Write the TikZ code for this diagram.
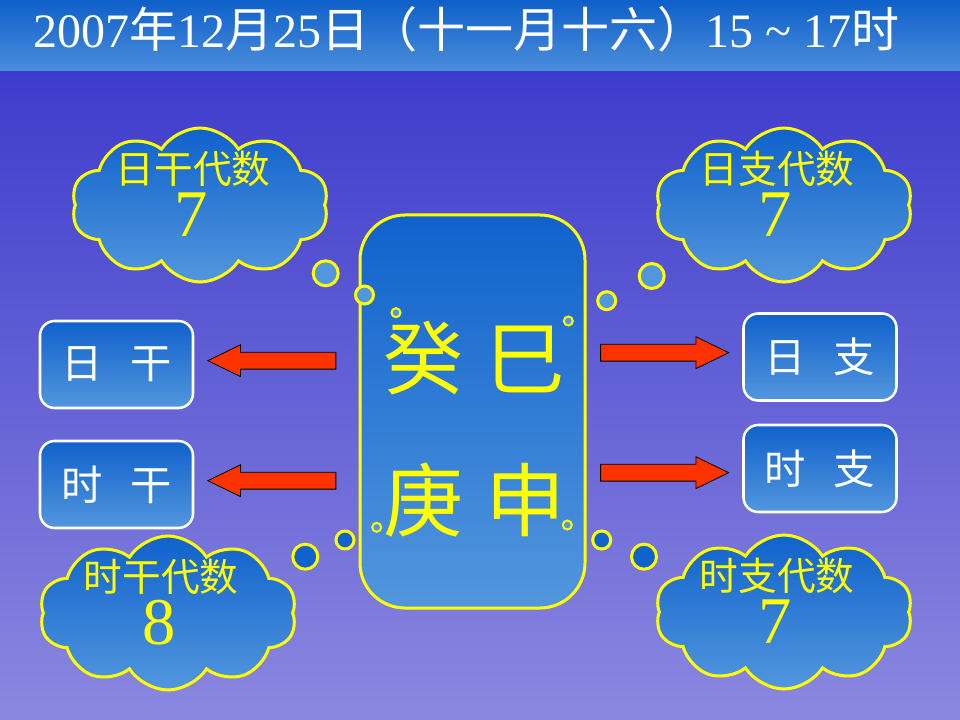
\documentclass[tikz,border=0pt]{standalone}
\usepackage{fontspec}
\setmainfont{Liberation Serif}
\newfontfamily\cjk{Noto Sans CJK SC}
\usepackage{tikz}
\usetikzlibrary{shapes.symbols, shapes.arrows}

\definecolor{boxtop}{RGB}{16,98,204}
\definecolor{boxbot}{RGB}{82,150,221}
\definecolor{bgtop}{RGB}{62,60,204}
\definecolor{bgbot}{RGB}{139,136,224}
\definecolor{bandtop}{RGB}{14,96,202}
\definecolor{bandbot}{RGB}{76,142,219}
\definecolor{arrowred}{RGB}{255,51,0}
\definecolor{ylw}{RGB}{255,255,0}

\begin{document}
\begin{tikzpicture}[x=0.75pt, y=-0.75pt,
    boxshade/.style={top color=boxtop, bottom color=boxbot},
    stembox/.style={boxshade, draw=ylw, line width=2.25pt, rounded corners=33.75pt,
        minimum width=168.75pt, minimum height=294.75pt, inner sep=0pt},
    stemtext/.style={text=ylw, align=center, inner sep=0pt,
        font=\cjk\fontsize{60}{106.5}\selectfont},
    sidebox/.style={boxshade, draw=white, line width=1.9pt, rounded corners=11pt,
        minimum width=114.75pt, minimum height=65.25pt, inner sep=0pt,
        text=white, font=\cjk\fontsize{31}{31}\selectfont},
    thought/.style={cloud, cloud puffs=10, cloud puff arc=115, cloud ignores aspect,
        boxshade, draw=ylw, line width=2.25pt,
        minimum width=192.75pt, minimum height=115.5pt, inner sep=0pt},
    cloudlabel/.style={text=ylw, inner sep=0pt, font=\cjk\fontsize{29}{29}\selectfont},
    cloudnum/.style={text=ylw, inner sep=0pt, font=\fontsize{50}{50}\selectfont},
    blockarrow/.style={single arrow, draw=black, line width=0.6pt, fill=arrowred,
        minimum height=96pt, inner xsep=0pt, inner ysep=6pt,
        single arrow head extend=5.6pt, single arrow tip angle=52},
    titletext/.style={text=white, inner sep=0pt, font=\fontsize{36}{36}\selectfont}]

% 1. 背景与标题
\useasboundingbox (0,0) rectangle (960,720);
\shade[top color=bandtop, bottom color=bandbot] (0,0) rectangle (960,72);
\shade[top color=bgtop, bottom color=bgbot] (0,72) rectangle (960,720);
\node[titletext, anchor=base west] (title) at (33,48)
    {2007{\cjk 年}12{\cjk 月}25{\cjk 日（十一月十六）}15 \textasciitilde{} 17{\cjk 时}};

% 2. 中间的四柱
\node[stembox] (stem) at (472.5,411.5) {};
\node[stemtext] (stemchars) at (474,429)
    {癸\hspace{16.5pt}巳\\庚\hspace{16.5pt}申};

% 3. 两边的干支框
\node[sidebox] (rigan) at (116.5,364.5) {日\hspace{21pt}干};
\node[sidebox] (shigan) at (116.5,484.5) {时\hspace{21pt}干};
\node[sidebox] (rizhi) at (820,357) {日\hspace{21pt}支};
\node[sidebox] (shizhi) at (820,468.5) {时\hspace{21pt}支};

% 4. 箭头
\foreach \nm/\ax/\ay/\rot in
    {rg/280.5/360.7/180, sg/280.5/480.7/180, rz/656/352.7/0, sz/656/472.7/0}
    {\node[blockarrow, shape border rotate=\rot] (arr\nm) at (\ax,\ay) {};
    }

% 5. 代数云
\foreach \nm/\cx/\cy/\lab/\num in
    {rg/200/205/日干代数/7, rz/784/205/日支代数/7,
     sg/168/613/时干代数/8, sz/784/612/时支代数/7}
    {\node[thought] (c\nm) at (\cx,\cy) {};
     \node[cloudlabel] (l\nm) at (\cx-7,\cy-36) {\lab};
     \node[cloudnum] (n\nm) at (\cx-9,\cy+10) {\num};
    }

% 6. 小气泡
\foreach \cx/\cy/\r/\col/\lw in
    {325.7/273.3/12.5/boxbot/2.25, 364.5/295/9/boxbot/2.25,
     606.7/300.7/9/boxbot/2.25, 651.7/276/12.5/boxbot/2.25,
     396/312.7/4.5/boxbot/1.5, 568.3/321/4.5/boxbot/1.5,
     376.7/527.3/4.5/boxbot/1.5, 567.3/525/4.5/boxbot/1.5,
     345/540/9/boxtop/2.25, 305.3/556.7/12.5/boxtop/2.25,
     601.7/540/9/boxtop/2.25, 644/556.7/12.5/boxtop/2.25}
    {\draw[draw=ylw, fill=\col, line width=\lw pt] (\cx,\cy) circle (\r);
    }
\end{tikzpicture}
\end{document}
